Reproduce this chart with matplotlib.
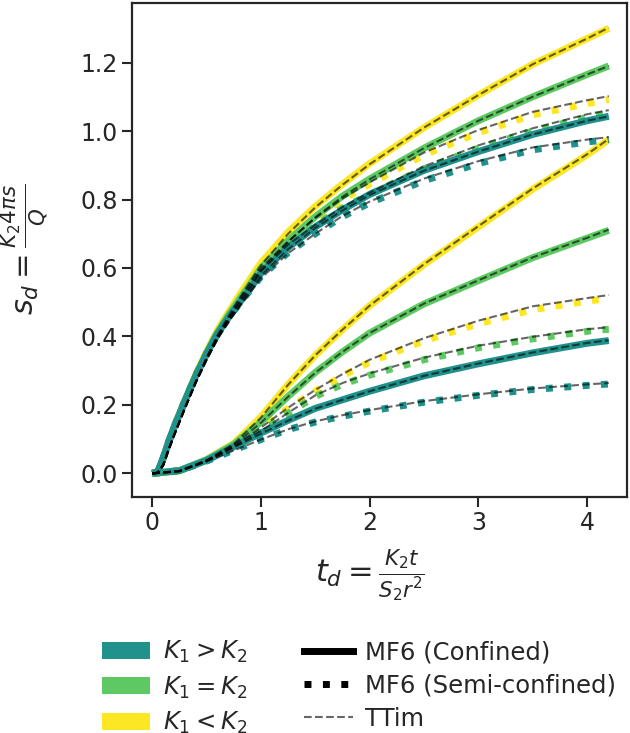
import matplotlib
matplotlib.use("Agg")
import matplotlib.pyplot as plt
from matplotlib.patches import Patch
from matplotlib.lines import Line2D

# dimensionless time grids
t_up = [0, 0.05, 0.1, 0.15, 0.2, 0.3, 0.4, 0.5, 0.6, 0.7, 0.8, 0.9, 1.0,
        1.25, 1.5, 1.75, 2.0, 2.5, 3.0, 3.5, 4.0, 4.2]
t_lo = [0, 0.25, 0.5, 0.75, 1.0, 1.25, 1.5, 1.75, 2.0, 2.5, 3.0, 3.5, 4.0, 4.2]

# upper group (MF6 confined / semi-confined)
teal_conf_up = [0, 0.005, 0.045, 0.092, 0.135, 0.212, 0.285, 0.35, 0.408, 0.455, 0.498, 0.54, 0.585,
                0.66, 0.72, 0.77, 0.815, 0.885, 0.94, 0.99, 1.03, 1.043]
green_conf_up = [0, 0.005, 0.044, 0.091, 0.134, 0.212, 0.286, 0.352, 0.412, 0.462, 0.508, 0.553, 0.6,
                 0.68, 0.75, 0.81, 0.86, 0.95, 1.03, 1.1, 1.165, 1.19]
yellow_conf_up = [0, 0.005, 0.043, 0.09, 0.134, 0.213, 0.288, 0.356, 0.418, 0.47, 0.52, 0.568, 0.615,
                  0.705, 0.78, 0.845, 0.905, 1.01, 1.105, 1.195, 1.27, 1.30]
teal_semi_up = [0, 0.005, 0.045, 0.092, 0.135, 0.212, 0.285, 0.35, 0.407, 0.453, 0.495, 0.535, 0.575,
                0.645, 0.70, 0.75, 0.79, 0.855, 0.905, 0.945, 0.968, 0.975]
green_semi_up = [0, 0.005, 0.044, 0.091, 0.134, 0.212, 0.286, 0.351, 0.41, 0.458, 0.503, 0.548, 0.595,
                 0.67, 0.725, 0.775, 0.815, 0.89, 0.95, 1.0, 1.04, 1.052]
yellow_semi_up = [0, 0.005, 0.043, 0.09, 0.134, 0.213, 0.288, 0.355, 0.416, 0.466, 0.514, 0.56, 0.605,
                  0.68, 0.745, 0.80, 0.845, 0.93, 0.995, 1.047, 1.08, 1.092]

# lower group
teal_conf_lo = [0, 0.008, 0.038, 0.078, 0.118, 0.155, 0.19, 0.215, 0.24, 0.285, 0.32, 0.352, 0.38, 0.388]
green_conf_lo = [0, 0.008, 0.04, 0.085, 0.15, 0.225, 0.295, 0.355, 0.41, 0.495, 0.563, 0.63, 0.687, 0.71]
yellow_conf_lo = [0, 0.007, 0.04, 0.088, 0.165, 0.26, 0.345, 0.42, 0.49, 0.61, 0.72, 0.83, 0.93, 0.975]
teal_semi_lo = [0, 0.008, 0.036, 0.068, 0.099, 0.128, 0.15, 0.167, 0.182, 0.208, 0.228, 0.245, 0.257, 0.261]
green_semi_lo = [0, 0.008, 0.038, 0.078, 0.124, 0.175, 0.225, 0.26, 0.287, 0.332, 0.367, 0.393, 0.415, 0.421]
yellow_semi_lo = [0, 0.007, 0.038, 0.08, 0.134, 0.19, 0.24, 0.285, 0.325, 0.387, 0.437, 0.478, 0.503, 0.511]

# TTim (analytic) curves
ttim_conf_up = {
    "teal": [0, 0.002, 0.025, 0.07, 0.112, 0.19, 0.265, 0.332, 0.393, 0.443, 0.488, 0.532, 0.578,
             0.655, 0.717, 0.768, 0.813, 0.884, 0.94, 0.99, 1.03, 1.043],
    "green": [0, 0.002, 0.024, 0.069, 0.111, 0.19, 0.266, 0.334, 0.397, 0.45, 0.498, 0.545, 0.593,
              0.676, 0.748, 0.808, 0.859, 0.95, 1.03, 1.1, 1.165, 1.19],
    "yellow": [0, 0.002, 0.023, 0.068, 0.11, 0.191, 0.268, 0.338, 0.403, 0.458, 0.51, 0.56, 0.608,
               0.7, 0.777, 0.843, 0.903, 1.01, 1.105, 1.195, 1.27, 1.302],
}
ttim_semi_up = {
    "teal": [0, 0.002, 0.025, 0.07, 0.112, 0.19, 0.265, 0.332, 0.392, 0.442, 0.486, 0.528, 0.57,
             0.643, 0.70, 0.752, 0.794, 0.861, 0.912, 0.952, 0.975, 0.982],
    "green": [0, 0.002, 0.024, 0.069, 0.111, 0.19, 0.266, 0.333, 0.395, 0.447, 0.494, 0.541, 0.59,
              0.668, 0.726, 0.778, 0.82, 0.897, 0.958, 1.008, 1.049, 1.061],
    "yellow": [0, 0.002, 0.023, 0.068, 0.11, 0.191, 0.268, 0.337, 0.401, 0.454, 0.505, 0.553, 0.6,
               0.678, 0.746, 0.803, 0.85, 0.937, 1.003, 1.056, 1.09, 1.102],
}
ttim_conf_lo = {
    "teal": [0, 0.007, 0.036, 0.076, 0.116, 0.154, 0.189, 0.215, 0.24, 0.285, 0.321, 0.353, 0.381, 0.389],
    "green": [0, 0.007, 0.038, 0.083, 0.148, 0.224, 0.294, 0.355, 0.41, 0.496, 0.564, 0.631, 0.688, 0.712],
    "yellow": [0, 0.006, 0.038, 0.086, 0.163, 0.259, 0.345, 0.42, 0.49, 0.611, 0.722, 0.832, 0.932, 0.977],
}
ttim_semi_lo = {
    "teal": [0, 0.007, 0.035, 0.067, 0.099, 0.129, 0.152, 0.17, 0.185, 0.211, 0.231, 0.248, 0.26, 0.264],
    "green": [0, 0.007, 0.037, 0.077, 0.124, 0.177, 0.228, 0.264, 0.292, 0.338, 0.373, 0.399, 0.421, 0.427],
    "yellow": [0, 0.006, 0.037, 0.079, 0.134, 0.192, 0.244, 0.29, 0.332, 0.395, 0.446, 0.488, 0.512, 0.521],
}

colors = {"teal": "#21918c", "green": "#5ec962", "yellow": "#fde725"}
labels = {"teal": r"$K_1 > K_2$", "green": r"$K_1 = K_2$", "yellow": r"$K_1 < K_2$"}

conf_up = {"teal": teal_conf_up, "green": green_conf_up, "yellow": yellow_conf_up}
semi_up = {"teal": teal_semi_up, "green": green_semi_up, "yellow": yellow_semi_up}
conf_lo = {"teal": teal_conf_lo, "green": green_conf_lo, "yellow": yellow_conf_lo}
semi_lo = {"teal": teal_semi_lo, "green": green_semi_lo, "yellow": yellow_semi_lo}

plt.rcParams.update({
    "font.size": 17,
    "text.color": "#262626",
    "axes.labelcolor": "#262626",
    "axes.edgecolor": "#262626",
    "xtick.color": "#262626",
    "ytick.color": "#262626",
    "axes.linewidth": 1.6,
    "xtick.major.width": 1.5,
    "ytick.major.width": 1.5,
    "xtick.major.size": 7,
    "ytick.major.size": 7,
})

fig = plt.figure(figsize=(6.3, 7.33), dpi=100)
ax = fig.add_axes([0.21, 0.3224, 0.786, 0.674])

lw = 5
order = ["yellow", "green", "teal"]  # teal drawn last, on top
for k in order:
    ax.plot(t_lo, semi_lo[k], color=colors[k], lw=lw, ls=":", dash_capstyle="butt")
    ax.plot(t_lo, conf_lo[k], color=colors[k], lw=lw, solid_capstyle="butt")
for k in order:
    ax.plot(t_up, semi_up[k], color=colors[k], lw=lw, ls=":", dash_capstyle="butt")
    ax.plot(t_up, conf_up[k], color=colors[k], lw=lw, solid_capstyle="butt")
for k in order:
    ax.plot(t_lo, ttim_semi_lo[k], color="k", alpha=0.6, lw=1.5, ls="--")
    ax.plot(t_lo, ttim_conf_lo[k], color="k", alpha=0.6, lw=1.5, ls="--")
    ax.plot(t_up, ttim_semi_up[k], color="k", alpha=0.6, lw=1.5, ls="--")
    ax.plot(t_up, ttim_conf_up[k], color="k", alpha=0.6, lw=1.5, ls="--")

ax.set_xlim(-0.184, 4.372)
ax.set_ylim(-0.068, 1.375)
ax.set_xticks([0, 1, 2, 3, 4])
ax.set_yticks([0.0, 0.2, 0.4, 0.6, 0.8, 1.0, 1.2])
ax.set_xlabel(r"$t_d = \frac{K_2 t}{S_2 r^2}$", fontsize=22)
ax.set_ylabel(r"$s_d = \frac{K_2 4 \pi s}{Q}$", fontsize=22)
ax.xaxis.set_label_coords(0.48, -0.104)
ax.yaxis.set_label_coords(-0.165, 0.5)

handles = [Patch(facecolor=colors[k], edgecolor="none") for k in ["teal", "green", "yellow"]]
handles += [
    Line2D([], [], color="k", lw=lw),
    Line2D([], [], color="k", lw=lw, ls=":", dash_capstyle="butt"),
    Line2D([], [], color="k", alpha=0.6, lw=1.5, ls="--"),
]
leg_labels = [labels[k] for k in ["teal", "green", "yellow"]]
leg_labels += ["MF6 (Confined)", "MF6 (Semi-confined)", "TTim"]
fig.legend(handles, leg_labels, ncol=2, loc="upper left",
           bbox_to_anchor=(0.127, 0.158), frameon=False, fontsize=17.5,
           handletextpad=0.5, columnspacing=2.35, labelspacing=0.38)

fig.savefig("out.png", dpi=100)
